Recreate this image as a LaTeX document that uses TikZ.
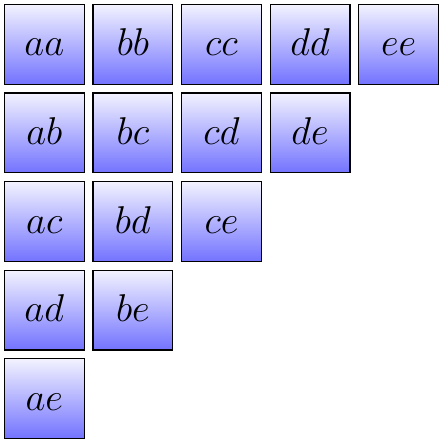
\documentclass[tikz,border=0pt]{standalone}
\usetikzlibrary{positioning}

\begin{document}
\begin{tikzpicture}[align=center,node distance=2cm]
\tikzstyle{pair}=[rectangle,draw=black,thick,minimum size=1.8cm,inner sep=0pt,
  text height=16pt,text depth=1pt,
  top color=blue!5,bottom color=blue!55,font=\Huge]

\useasboundingbox (-1,1) rectangle (9,-9);

\node[pair] (aa) {$aa$};
\node[pair] (bb) [right of = aa] {$bb$};
\node[pair] (cc) [right of = bb] {$cc$};
\node[pair] (dd) [right of = cc] {$dd$};
\node[pair] (ee) [right of = dd] {$ee$};

\node[pair] (ab) [below of = aa] {$ab$};
\node[pair] (bc) [right of = ab] {$bc$};
\node[pair] (cd) [right of = bc] {$cd$};
\node[pair] (de) [right of = cd] {$de$};

\node[pair] (ac) [below of = ab] {$ac$};
\node[pair] (bd) [right of = ac] {$bd$};
\node[pair] (ce) [right of = bd] {$ce$};

\node[pair] (ad) [below of = ac] {$ad$};
\node[pair] (be) [right of = ad] {$be$};

\node[pair] (ae) [below of = ad] {$ae$};
\end{tikzpicture}
\end{document}
